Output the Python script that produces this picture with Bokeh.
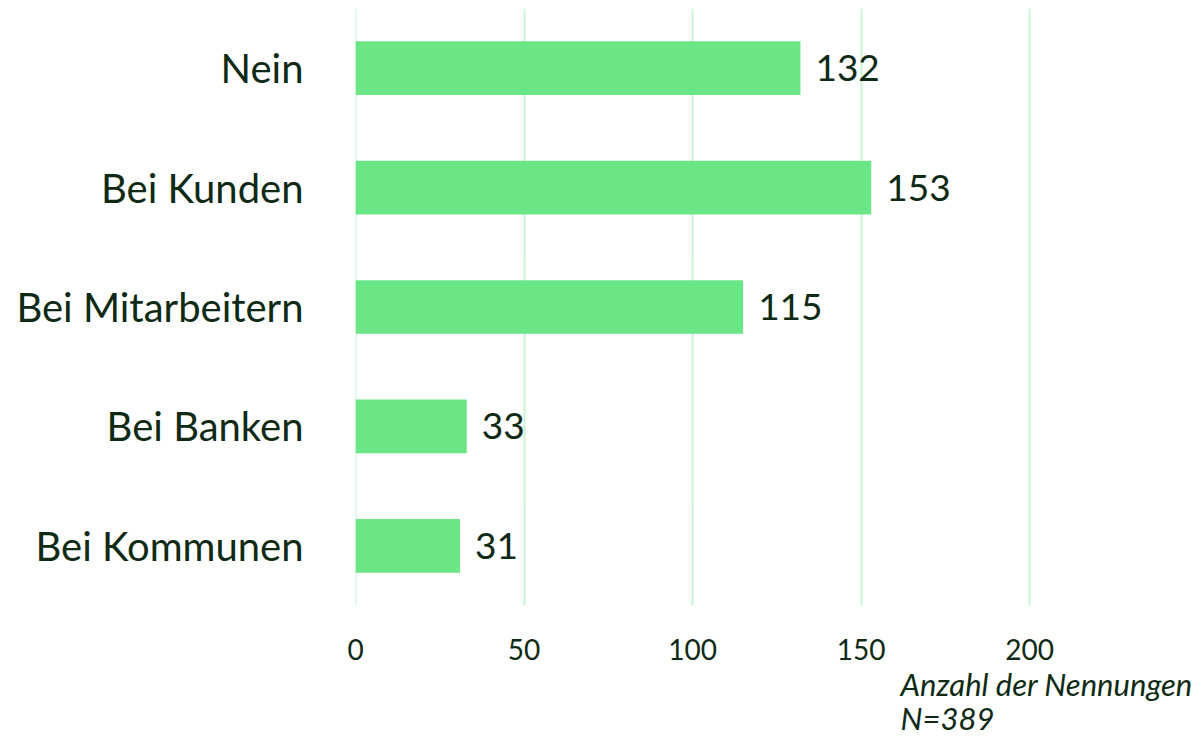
from bokeh.plotting import figure
from bokeh.models import FactorRange, Range1d, Title, FixedTicker, ColumnDataSource, Span
from bokeh.core.properties import value
from bokeh.embed import file_html
from bokeh.resources import INLINE

categories = ["Nein", "Bei Kunden", "Bei Mitarbeitern", "Bei Banken", "Bei Kommunen"]
counts = [132, 153, 115, 33, 31]
x_ticks = [0, 50, 100, 150, 200]
note_text = "Anzahl der Nennungen\nN=389"

BAR = "#6AE687"
GRID = "#C8F5D5"
TXT = "#0E2A14"
FONT = "Lato"

factors = list(reversed(categories))
src = ColumnDataSource(dict(cat=categories, val=counts, lbl=[str(v) for v in counts]))

p = figure(width=1196, height=737, y_range=FactorRange(*factors),
           x_range=Range1d(0, 249.5), output_backend="svg", toolbar_location=None)
p.min_border_left = 355
p.min_border_right = 0
p.min_border_top = 8
p.min_border_bottom = 0
p.outline_line_color = None
p.background_fill_color = "white"
p.border_fill_color = "white"

p.add_layout(Span(location=0, dimension="height", line_color=GRID, line_width=2, level="underlay"))
p.hbar(y="cat", right="val", left=0, height=0.45, source=src, color=BAR, line_color=None)
p.text(x="val", y="cat", text="lbl", source=src, x_offset=15, text_baseline="middle",
       text_align="left", text_font=value(FONT), text_font_size="37px", text_color=TXT)

p.xgrid.ticker = FixedTicker(ticks=x_ticks)
p.xgrid.grid_line_color = GRID
p.xgrid.grid_line_width = 2
p.ygrid.grid_line_color = None

p.xaxis.ticker = FixedTicker(ticks=x_ticks)
p.xaxis.axis_line_color = None
p.xaxis.major_tick_line_color = None
p.xaxis.minor_tick_line_color = None
p.xaxis.major_label_text_font = FONT
p.xaxis.major_label_text_font_size = "28px"
p.xaxis.major_label_text_color = TXT
p.xaxis.major_label_standoff = 27

p.yaxis.axis_line_color = None
p.yaxis.major_tick_line_color = None
p.yaxis.minor_tick_line_color = None
p.yaxis.major_label_text_font = FONT
p.yaxis.major_label_text_font_size = "40px"
p.yaxis.major_label_text_color = TXT
p.yaxis.major_label_standoff = 46

note = Title(text=note_text, align="left", offset=545, text_font=FONT,
             text_font_style="italic", text_font_size="31px", text_color=TXT,
             text_line_height=0.92, standoff=0)
p.add_layout(note, "below")

open("out.html", "w").write(file_html(p, INLINE))
